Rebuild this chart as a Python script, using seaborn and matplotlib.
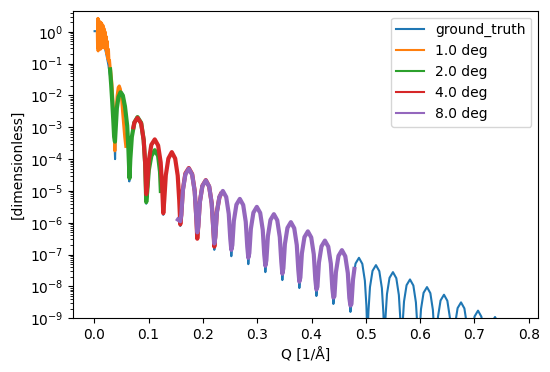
import numpy as np
import pandas as pd
import matplotlib
matplotlib.use("Agg")
import matplotlib.pyplot as plt
import matplotlib.ticker as mticker
import seaborn as sns

# ---------------- data (Q in 1/Å, log10 of reflectivity) ----------------
gt_q = [0.0005, 0.006, 0.010, 0.014, 0.018, 0.022, 0.026, 0.030, 0.033, 0.036, 0.0382,
        0.0395, 0.0415, 0.0445, 0.0483, 0.0525, 0.0565, 0.0605, 0.0628, 0.0644,
        0.0663, 0.0691, 0.0738, 0.0795, 0.0862, 0.0909, 0.0937, 0.0956,
        0.0975, 0.1003, 0.1050, 0.1113, 0.1175, 0.1222, 0.1250, 0.1270,
        0.1289, 0.1317, 0.1364, 0.1427, 0.1489, 0.1536, 0.1564, 0.1583,
        0.1602, 0.1630, 0.1677, 0.1740, 0.1802, 0.1849, 0.1877, 0.1896,
        0.1915, 0.1943, 0.1990, 0.2053, 0.2115, 0.2162, 0.2190, 0.2210,
        0.2229, 0.2257, 0.2304, 0.2367, 0.2429, 0.2476, 0.2504, 0.2523,
        0.2542, 0.2570, 0.2617, 0.2680, 0.2742, 0.2789, 0.2817, 0.2836,
        0.2855, 0.2883, 0.2930, 0.2993, 0.3055, 0.3102, 0.3130, 0.3150,
        0.3169, 0.3197, 0.3244, 0.3307, 0.3369, 0.3416, 0.3444, 0.3463,
        0.3482, 0.3510, 0.3557, 0.3620, 0.3682, 0.3729, 0.3757, 0.3776,
        0.3795, 0.3823, 0.3870, 0.3933, 0.3995, 0.4042, 0.4070, 0.4090,
        0.4109, 0.4137, 0.4184, 0.4247, 0.4309, 0.4356, 0.4384, 0.4403,
        0.4422, 0.4450, 0.4497, 0.4560, 0.4622, 0.4669, 0.4697, 0.4717,
        0.4736, 0.4764, 0.4811, 0.4874, 0.4936, 0.4983, 0.5011, 0.5030,
        0.5049, 0.5077, 0.5124, 0.5187, 0.5249, 0.5296, 0.5324, 0.5343,
        0.5362, 0.5390, 0.5437, 0.5500, 0.5562, 0.5609, 0.5637, 0.5657,
        0.5676, 0.5704, 0.5751, 0.5814, 0.5876, 0.5923, 0.5951, 0.5970,
        0.5989, 0.6017, 0.6064, 0.6127, 0.6189, 0.6236, 0.6264, 0.6283,
        0.6302, 0.6330, 0.6377, 0.6440, 0.6502, 0.6549, 0.6577, 0.6597,
        0.6616, 0.6644, 0.6691, 0.6754, 0.6816, 0.6863, 0.6891, 0.6910,
        0.6929, 0.6957, 0.7004, 0.7067, 0.7129, 0.7176, 0.7204, 0.7223,
        0.7242, 0.7270, 0.7317, 0.7380, 0.7442, 0.7489, 0.7517, 0.7537,
        0.7556, 0.7584, 0.7631, 0.7693, 0.7755, 0.7780]
gt_logr = [0.02, 0.02, 0.0, -0.15, -0.4, -0.7, -1.05, -1.5, -2.1, -2.9, -4.0,
           -3.1, -2.4, -2.0, -1.85, -1.95, -2.3, -2.9, -3.6, -4.7,
           -4.0, -3.3, -2.85, -2.68, -2.86, -3.4, -4.15, -5.4,
           -4.85, -4.09, -3.58, -3.40, -3.59, -4.12, -4.90, -5.75,
           -5.27, -4.51, -4.00, -3.82, -4.01, -4.54, -5.32, -6.10,
           -5.75, -4.99, -4.48, -4.30, -4.49, -5.02, -5.80, -6.45,
           -6.12, -5.36, -4.85, -4.67, -4.86, -5.39, -6.17, -6.85,
           -6.45, -5.69, -5.18, -5.00, -5.19, -5.72, -6.50, -7.05,
           -6.70, -5.94, -5.43, -5.25, -5.44, -5.97, -6.75, -7.30,
           -6.95, -6.19, -5.68, -5.50, -5.69, -6.22, -7.00, -7.55,
           -7.18, -6.42, -5.91, -5.73, -5.92, -6.45, -7.23, -7.80,
           -7.43, -6.67, -6.16, -5.98, -6.17, -6.70, -7.48, -8.05,
           -7.72, -6.96, -6.45, -6.27, -6.46, -6.99, -7.77, -8.30,
           -8.01, -7.25, -6.74, -6.56, -6.75, -7.28, -8.06, -8.55,
           -8.31, -7.55, -7.04, -6.86, -7.05, -7.58, -8.36, -8.80,
           -8.55, -7.79, -7.28, -7.10, -7.29, -7.82, -8.60, -9.60,
           -8.78, -8.02, -7.51, -7.33, -7.52, -8.05, -8.83, -9.70,
           -9.00, -8.24, -7.73, -7.55, -7.74, -8.27, -9.05, -9.90,
           -9.23, -8.47, -7.96, -7.78, -7.97, -8.50, -9.28, -10.10,
           -9.47, -8.71, -8.20, -8.02, -8.21, -8.74, -9.52, -10.30,
           -9.71, -8.95, -8.44, -8.26, -8.45, -8.98, -9.76, -10.50,
           -9.95, -9.19, -8.68, -8.50, -8.69, -9.22, -10.00, -10.70,
           -10.21, -9.45, -8.94, -8.76, -8.95, -9.48, -10.26, -10.90,
           -10.41, -9.65, -9.14, -8.96, -9.15, -9.68, -10.46, -11.10,
           -10.65, -9.90, -9.38, -9.20, -9.39, -9.50]

d1_q = [0.0055, 0.006, 0.0065, 0.007, 0.0075, 0.008, 0.0085, 0.009, 0.010, 0.011,
        0.012, 0.013, 0.014, 0.015, 0.016, 0.017, 0.018, 0.019, 0.020, 0.021,
        0.022, 0.023, 0.024, 0.025, 0.026, 0.027, 0.028, 0.029, 0.030, 0.031,
        0.032, 0.033, 0.034, 0.035, 0.036, 0.037, 0.0378, 0.0385, 0.040, 0.042,
        0.044, 0.046, 0.048, 0.050, 0.052, 0.054, 0.056, 0.058]
d1_logr = [0.0, -0.5, 0.42, -0.6, 0.4, -0.55, 0.35, -0.5, 0.3, -0.55,
           0.3, -0.5, 0.25, -0.5, 0.2, -0.5, 0.1, -0.45, 0.0, -0.55,
           -0.15, -0.7, -0.3, -0.85, -0.55, -0.95, -0.9, -1.1, -1.2, -1.4,
           -1.55, -1.8, -2.1, -2.4, -2.8, -3.3, -3.74, -3.2, -2.5, -2.0,
           -1.75, -1.7, -1.8, -2.05, -2.5, -2.9, -3.3, -3.6]

d2_q = [0.029, 0.031, 0.033, 0.035, 0.0365, 0.038, 0.0395, 0.0415, 0.0445, 0.0483,
        0.0525, 0.0565, 0.0605, 0.0628, 0.0648, 0.0663, 0.0691, 0.0738, 0.0795, 0.0862,
        0.0909, 0.0937, 0.0956, 0.0975, 0.1003, 0.1050, 0.1113, 0.1175, 0.1210, 0.1225]
d2_logr = [-1.18, -1.65, -2.2, -2.8, -3.3, -3.45, -3.0, -2.4, -2.05, -1.9,
           -2.0, -2.35, -2.95, -3.7, -4.6, -4.0, -3.3, -2.85, -2.68, -2.86,
           -3.4, -4.15, -5.35, -5.0, -4.35, -3.9, -3.72, -3.9, -4.4, -5.0]

d4_q = [0.0720, 0.0738, 0.0795, 0.0862, 0.0909, 0.0937, 0.0956,
        0.0975, 0.1003, 0.1050, 0.1113, 0.1175, 0.1222, 0.1250, 0.1270,
        0.1289, 0.1317, 0.1364, 0.1427, 0.1489, 0.1536, 0.1564, 0.1583,
        0.1602, 0.1630, 0.1677, 0.1740, 0.1802, 0.1849, 0.1877, 0.1896,
        0.1915, 0.1943, 0.1990, 0.2053, 0.2115, 0.2162, 0.2190, 0.2210,
        0.2229, 0.2257, 0.2304, 0.2330]
d4_logr = [-3.0, -2.85, -2.70, -2.88, -3.4, -4.15, -5.1,
           -4.85, -4.05, -3.55, -3.38, -3.57, -4.1, -4.9, -5.7,
           -5.27, -4.5, -3.98, -3.78, -3.98, -4.52, -5.3, -6.05,
           -5.75, -4.97, -4.45, -4.28, -4.47, -5.0, -5.8, -6.5,
           -6.1, -5.35, -4.84, -4.66, -4.86, -5.39, -6.15, -6.75,
           -6.4, -5.65, -5.2, -5.1]

d8_q = [0.1540, 0.1583,
        0.1602, 0.1630, 0.1677, 0.1740, 0.1802, 0.1849, 0.1877, 0.1896,
        0.1915, 0.1943, 0.1990, 0.2053, 0.2115, 0.2162, 0.2190, 0.2210,
        0.2229, 0.2257, 0.2304, 0.2367, 0.2429, 0.2476, 0.2504, 0.2523,
        0.2542, 0.2570, 0.2617, 0.2680, 0.2742, 0.2789, 0.2817, 0.2836,
        0.2855, 0.2883, 0.2930, 0.2993, 0.3055, 0.3102, 0.3130, 0.3150,
        0.3169, 0.3197, 0.3244, 0.3307, 0.3369, 0.3416, 0.3444, 0.3463,
        0.3482, 0.3510, 0.3557, 0.3620, 0.3682, 0.3729, 0.3757, 0.3776,
        0.3795, 0.3823, 0.3870, 0.3933, 0.3995, 0.4042, 0.4070, 0.4090,
        0.4109, 0.4137, 0.4184, 0.4247, 0.4309, 0.4356, 0.4384, 0.4403,
        0.4422, 0.4450, 0.4497, 0.4560, 0.4622, 0.4669, 0.4697, 0.4717,
        0.4736, 0.4764, 0.4790]
d8_logr = [-5.9, -5.95,
           -5.75, -4.99, -4.48, -4.30, -4.49, -5.02, -5.80, -6.30,
           -6.12, -5.36, -4.85, -4.67, -4.86, -5.39, -6.17, -6.65,
           -6.45, -5.69, -5.18, -5.00, -5.19, -5.72, -6.50, -6.85,
           -6.70, -5.94, -5.43, -5.25, -5.44, -5.97, -6.75, -7.10,
           -6.95, -6.19, -5.68, -5.50, -5.69, -6.22, -7.00, -7.35,
           -7.18, -6.42, -5.91, -5.73, -5.92, -6.45, -7.23, -7.60,
           -7.43, -6.67, -6.16, -5.98, -6.17, -6.70, -7.48, -7.85,
           -7.72, -6.96, -6.45, -6.27, -6.46, -6.99, -7.77, -8.10,
           -8.01, -7.25, -6.74, -6.56, -6.75, -7.28, -8.06, -8.35,
           -8.31, -7.55, -7.04, -6.86, -7.05, -7.58, -8.36, -8.60,
           -8.55, -7.79, -7.45]

series = [
    ("ground_truth", gt_q, gt_logr, "#1f77b4", 1.5),
    ("1.0 deg", d1_q, d1_logr, "#ff7f0e", 2.2),
    ("2.0 deg", d2_q, d2_logr, "#2ca02c", 3.0),
    ("4.0 deg", d4_q, d4_logr, "#d62728", 3.0),
    ("8.0 deg", d8_q, d8_logr, "#9467bd", 3.0),
]

# ---------------- plot ----------------
fig = plt.figure(figsize=(5.5, 3.72), dpi=100)
ax = fig.add_axes([0.1333, 0.1444, 0.9787 - 0.1333, 0.9712 - 0.1444])

for name, q, lr, col, lw in series:
    df = pd.DataFrame({"Q": q, "R": 10.0 ** np.asarray(lr)})
    sns.lineplot(data=df, x="Q", y="R", sort=False, estimator=None,
                 color=col, linewidth=lw, label=name, ax=ax)

ax.set_yscale("log")
ax.set_ylim(1e-9, 4.6)
ax.set_xlim(-0.0387, 0.8177)
ax.yaxis.set_major_locator(mticker.LogLocator(base=10, numticks=15))
ax.yaxis.set_minor_locator(mticker.LogLocator(base=10, subs=np.arange(2, 10), numticks=15))
ax.set_xlabel("Q [1/Å]")
ax.set_ylabel("[dimensionless]")

leg = ax.legend(loc="upper right")
for h in leg.get_lines():
    h.set_linewidth(1.5)

fig.savefig("out.png", dpi=100)
